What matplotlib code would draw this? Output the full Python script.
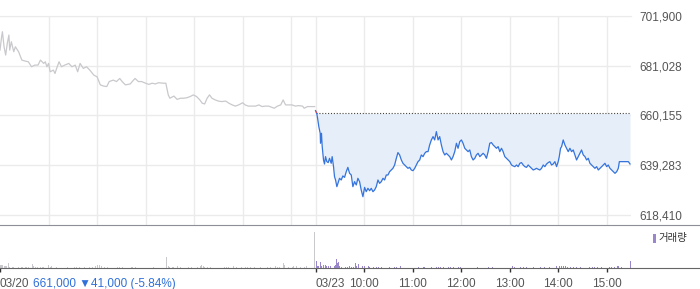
import matplotlib
matplotlib.use('Agg')
import matplotlib.pyplot as plt
from matplotlib.patches import Rectangle

plt.rcParams['font.family'] = ['Liberation Sans', 'DejaVu Sans']

# --- data (minutes from 09:00, price) ---
REF = 661000
Y_TICKS = [618410, 639283, 660155, 681028, 701900]
X_LABELS = ['03/20', '03/23', '10:00', '11:00', '12:00', '13:00', '14:00', '15:00']

# 03/20 session (gray)
t1 = [0, 2, 3, 5, 7, 9, 11, 12, 14, 17, 19, 23, 27, 31, 35, 39, 43, 47, 50, 54,
      56, 58, 60, 62, 66, 68, 70, 73, 76, 80, 85, 89, 93, 96, 99, 103, 107, 111, 116, 120,
      124, 128, 132, 135, 140, 144, 148, 151, 155, 161, 165, 167, 171, 175, 180, 184, 188, 192, 196, 202,
      205, 208, 210, 215, 219, 223, 227, 231, 235, 239, 243, 247, 250, 253, 256, 259, 262, 266, 270, 274,
      279, 283, 287, 291, 295, 300, 303, 307, 312, 316, 320, 324, 328, 332, 336, 339, 343, 347, 350, 353,
      357, 361, 365, 369, 374, 376, 380, 384, 389]
p1 = [687600, 693200, 695300, 689000, 685500, 690400, 693900, 687600, 691100, 686900,
      689000, 686900, 683400, 683000, 682700, 680600, 681300, 681300, 683400, 682000,
      682700, 680600, 682000, 678500, 679200, 677800, 679900, 682700, 680600, 681300,
      682000, 680600, 681300, 678500, 682000, 679900, 680600, 679200, 677100, 676400,
      673000, 672500, 672300, 674400, 675000, 674400, 675700, 674400, 673000, 673400,
      675000, 675700, 674400, 674400, 673700, 673200, 673700, 673400, 673900, 673700,
      673700, 668800, 667400, 668300, 666900, 667400, 667400, 667600, 668100, 668800,
      668100, 666700, 665300, 665000, 667400, 668800, 667400, 666700, 666200, 666000,
      666200, 665300, 664600, 664100, 664600, 665500, 664600, 664100, 664100, 664100,
      664600, 663900, 664100, 664100, 663600, 663200, 664100, 664600, 666700, 664600,
      664600, 664600, 664100, 664300, 664100, 663200, 663900, 663900, 663900]

# 03/23 session (blue)
t2 = [0.0, 1.7, 2.9, 4.1, 5.8, 6.2, 7.4, 8.3, 9.1, 9.9,
      11.1, 12.4, 14.0, 15.7, 17.3, 19.4, 20.6, 22.3, 23.5, 24.8,
      26.4, 27.7, 29.7, 31.8, 33.8, 35.9, 38.0, 40.0, 42.1, 44.2,
      46.2, 48.3, 50.4, 52.4, 54.5, 56.5, 58.6, 60.7, 62.7, 64.8,
      66.9, 68.9, 71.0, 73.0, 75.1, 77.2, 79.2, 81.3, 83.4, 85.4,
      87.5, 89.6, 91.6, 93.7, 95.7, 97.8, 99.9, 101.9, 104.0, 106.1,
      108.1, 110.2, 112.3, 114.3, 116.4, 118.4, 120.5, 122.6, 124.6, 126.7,
      128.8, 130.8, 132.9, 135.0, 137.0, 139.1, 141.1, 143.2, 145.3, 147.3,
      149.4, 151.5, 153.5, 155.6, 157.7, 159.7, 161.8, 163.8, 165.9, 168.0,
      170.0, 172.1, 174.2, 176.2, 178.3, 180.4, 182.4, 184.5, 186.5, 188.6,
      190.7, 192.7, 194.8, 196.9, 198.9, 201.0, 203.1, 205.1, 207.2, 209.2,
      211.3, 213.4, 215.4, 217.5, 219.6, 221.6, 223.7, 225.8, 227.8, 229.9,
      231.9, 234.0, 236.1, 238.1, 240.2, 242.3, 244.3, 246.4, 248.5, 250.5,
      252.6, 254.6, 256.7, 258.8, 260.8, 262.9, 265.0, 267.0, 269.1, 271.2,
      273.2, 275.3, 277.3, 279.4, 281.5, 283.5, 285.6, 287.7, 289.7, 291.8,
      293.8, 295.9, 298.0, 300.0, 301.3, 302.9, 304.2, 306.2, 308.3, 310.4,
      312.4, 314.5, 316.5, 318.6, 320.7, 322.7, 324.8, 326.9, 328.9, 331.0,
      333.1, 335.1, 337.2, 339.2, 341.3, 343.4, 345.4, 347.5, 349.6, 351.6,
      353.7, 355.8, 357.8, 359.9, 361.9, 364.0, 366.1, 368.1, 370.2, 372.3,
      374.3, 375.6, 378.5, 382.6, 386.7, 388.8]
p2 = [662200, 660800, 658300, 655500, 652700, 648500, 652700, 647100, 644300, 641500,
      639800, 642900, 640800, 640400, 642200, 640100, 642900, 638700, 634500, 633100,
      630300, 631700, 633800, 633100, 634800, 634200, 636600, 638400, 635900, 635200,
      630300, 632400, 631000, 633800, 632400, 628900, 626100, 630000, 628200, 629600,
      628600, 629600, 628200, 628900, 630300, 633100, 631700, 632400, 633800, 633100,
      635200, 635200, 636600, 637300, 638000, 639400, 642200, 644600, 643600, 641500,
      640100, 639400, 638700, 638000, 638400, 637300, 637000, 638000, 639400, 640800,
      641500, 643600, 642900, 644300, 645000, 645000, 647800, 649900, 651300, 649900,
      653400, 649900, 651300, 647800, 645000, 643600, 644300, 643600, 642900, 641500,
      642900, 645000, 648500, 646400, 649200, 649900, 648500, 646400, 645700, 645000,
      645700, 642900, 641500, 642200, 643600, 644300, 642900, 643600, 644300, 643600,
      642200, 645000, 648500, 648800, 647800, 647100, 646400, 647100, 645000, 646400,
      645000, 642900, 642200, 641500, 640800, 639400, 639000, 638700, 639400, 638700,
      640100, 640400, 639400, 638700, 638400, 639400, 638700, 638000, 637300, 637600,
      638000, 637600, 637300, 638000, 639400, 638700, 639800, 640400, 640800, 639400,
      639800, 640800, 638700, 640800, 642900, 646400, 647100, 649900, 647800, 646400,
      645000, 646400, 645000, 645700, 643600, 641500, 642900, 644300, 645700, 643600,
      642900, 641500, 642200, 640100, 639400, 638700, 638000, 638700, 637300, 638000,
      638700, 639400, 640100, 638700, 639400, 638000, 637300, 636600, 635900, 636600,
      638000, 640800, 640800, 640800, 640800, 639800]

# volume (thousand shares)
vt1 = [1, 2, 3, 5, 7, 8, 10, 12, 15, 17, 23, 26, 28, 31, 33, 35, 40, 41, 44, 46,
       50, 53, 54, 60, 62, 64, 70, 83, 92, 95, 98, 105, 111, 114, 118, 120, 121, 123, 125, 129,
       133, 145, 148, 152, 162, 164, 167, 190, 206, 208, 210, 213, 215, 220, 223, 233, 237, 244, 246, 248,
       249, 251, 253, 257, 260, 277, 280, 283, 289, 292, 299, 303, 306, 310, 314, 322, 331, 334, 340, 343,
       346, 351, 352, 357, 361, 363, 367, 372, 376, 379, 389]
vv1 = [3.5, 3, 3.5, 2.5, 2, 2.5, 5, 1.5, 1.5, 1.5, 1.5, 1.5, 1.5, 1.5, 1.5, 1.5, 4, 2, 1.5, 1.5,
       1.5, 1.5, 1.5, 3, 1.5, 2, 1, 1, 1, 1, 1, 1, 1.5, 1, 2, 2.5, 3, 3.5, 2, 1,
       1, 1, 1, 1, 1, 1, 1, 1, 11, 2, 1.5, 1.5, 1.5, 2, 1, 1, 1, 1, 1.5, 2,
       3, 2, 1.5, 1.5, 1.5, 1, 1, 1, 2, 1, 1, 1.5, 1.5, 1, 1, 1, 1, 1, 2.5, 1.5,
       1, 5, 3, 1, 1.5, 2, 2, 1.5, 1.5, 2, 36]
vt2 = [1, 2, 4, 6, 8, 10, 12, 14, 16, 19, 23, 25, 26, 27, 28, 30, 32, 34, 37, 39,
       42, 44, 47, 49, 51, 53, 55, 58, 61, 65, 67, 72, 76, 78, 81, 91, 98, 100, 105, 127,
       133, 135, 143, 144, 150, 152, 155, 158, 164, 167, 171, 177, 179, 200, 214, 219, 233, 244, 246, 254,
       257, 261, 270, 278, 283, 289, 298, 302, 304, 306, 309, 312, 315, 319, 323, 327, 339, 342, 345, 349,
       353, 363, 366, 370, 373, 375, 378, 389]
vv2 = [7, 2, 2, 6, 2.5, 3, 3, 2.5, 2, 2, 2, 3.5, 9, 5, 6, 2, 1.5, 1.5, 1.5, 1.5,
       2, 1.5, 1.5, 5, 2, 4, 2, 2, 2, 2, 1.5, 1, 1, 1, 1, 1, 1, 1, 2, 1,
       1, 1, 1.5, 2, 1.5, 1, 1, 1, 1, 1, 1, 1.5, 1.5, 1, 1, 1, 1, 2, 1, 1,
       1.5, 1, 1, 1, 1, 1, 2, 2.5, 2.5, 2, 2, 1.5, 1.5, 1.5, 1.5, 1.5, 1, 1, 1, 1,
       1, 1, 1.5, 1.5, 2.5, 2, 1.5, 7]

SESSION = 390  # minutes per session
GRAY = '#c9c9cd'
BLUE = '#3574dc'
RED = '#e8454a'
FILL = '#e6eefa'
PURPLE = '#9a86cc'
GRID = '#ebebeb'

t2x = [t + SESSION for t in t2]
vt2x = [t + SESSION for t in vt2]

W, H = 700, 289
fig = plt.figure(figsize=(W / 100, H / 100), dpi=100)

# --- price panel ---
ax = fig.add_axes([0, (H - 225) / H, 631 / W, (225 - 16) / H])
ax.set_xlim(0, 2 * SESSION)
ax.set_ylim(Y_TICKS[0] - (Y_TICKS[1] - Y_TICKS[0]) * 10 / 49.75, Y_TICKS[-1])

ax.fill_between(t2x, p2, REF, color=FILL, linewidth=0, zorder=1)
ax.plot(t1, p1, color=GRAY, lw=0.9, zorder=3)
ax.plot(t2x, p2, color=BLUE, lw=0.9, zorder=3)
red_line, = ax.plot(t2x, p2, color=RED, lw=0.9, zorder=4)
red_line.set_clip_path(Rectangle((SESSION, REF), SESSION, 100000, transform=ax.transData))
ax.plot([SESSION, 2 * SESSION], [REF, REF], color='#444444', lw=0.8,
        linestyle=(0, (1, 1.6)), zorder=2)

grid_x = [h * 60 for h in range(1, 7)] + [SESSION + h * 60 for h in range(0, 7)]
ax.set_xticks(grid_x)
ax.set_xticklabels([])
ax.set_yticks(Y_TICKS)
ax.set_yticklabels([f'{v:,}' for v in Y_TICKS])
ax.yaxis.tick_right()
ax.tick_params(axis='both', length=0)
ax.tick_params(axis='y', pad=6, labelsize=8.5, labelcolor='#555555')
ax.grid(True, color=GRID, lw=1)
ax.set_axisbelow(True)
for side in ['left', 'right', 'bottom']:
    ax.spines[side].set_visible(False)
ax.spines['top'].set_color(GRID)

# --- volume panel ---
vax = fig.add_axes([0, (H - 268) / H, 1, (268 - 225) / H])
vax.set_xlim(0, 2 * SESSION * W / 631)
vax.set_ylim(0, 43)
vax.bar(vt1, vv1, width=1.2, color=GRAY, linewidth=0)
vax.bar(vt2x, vv2, width=1.2, color=PURPLE, linewidth=0)

xt = [0, SESSION] + [SESSION + h * 60 for h in range(1, 7)]
vax.set_xticks(xt)
vax.set_xticklabels(X_LABELS)
for i, lab in enumerate(vax.get_xticklabels()):
    if i < 2:
        lab.set_horizontalalignment('left')
vax.set_yticks([])
vax.tick_params(axis='x', length=3, width=1, color='#333333', pad=4,
                labelsize=8.5, labelcolor='#555555')
vax.spines['left'].set_visible(False)
vax.spines['right'].set_visible(False)
vax.spines['top'].set_color('#8c9096')
vax.spines['bottom'].set_color('#666666')

fig.text(33 / W, 1 - 286.5 / H, '661,000 \u25bc41,000 (-5.84%)', color='#3070d8',
         fontsize=8.5, va='baseline', ha='left')

# legend
fig.add_artist(Rectangle((653 / W, 1 - 242.5 / H), 2.5 / W, 8.5 / H,
                         transform=fig.transFigure, color=PURPLE, lw=0))
fig.text(658 / W, 1 - 238 / H, '거래량', family=['Noto Sans CJK KR', 'DejaVu Sans'],
         fontsize=7.5, color='#333333', va='center', ha='left')

fig.savefig('out.png', dpi=100)
